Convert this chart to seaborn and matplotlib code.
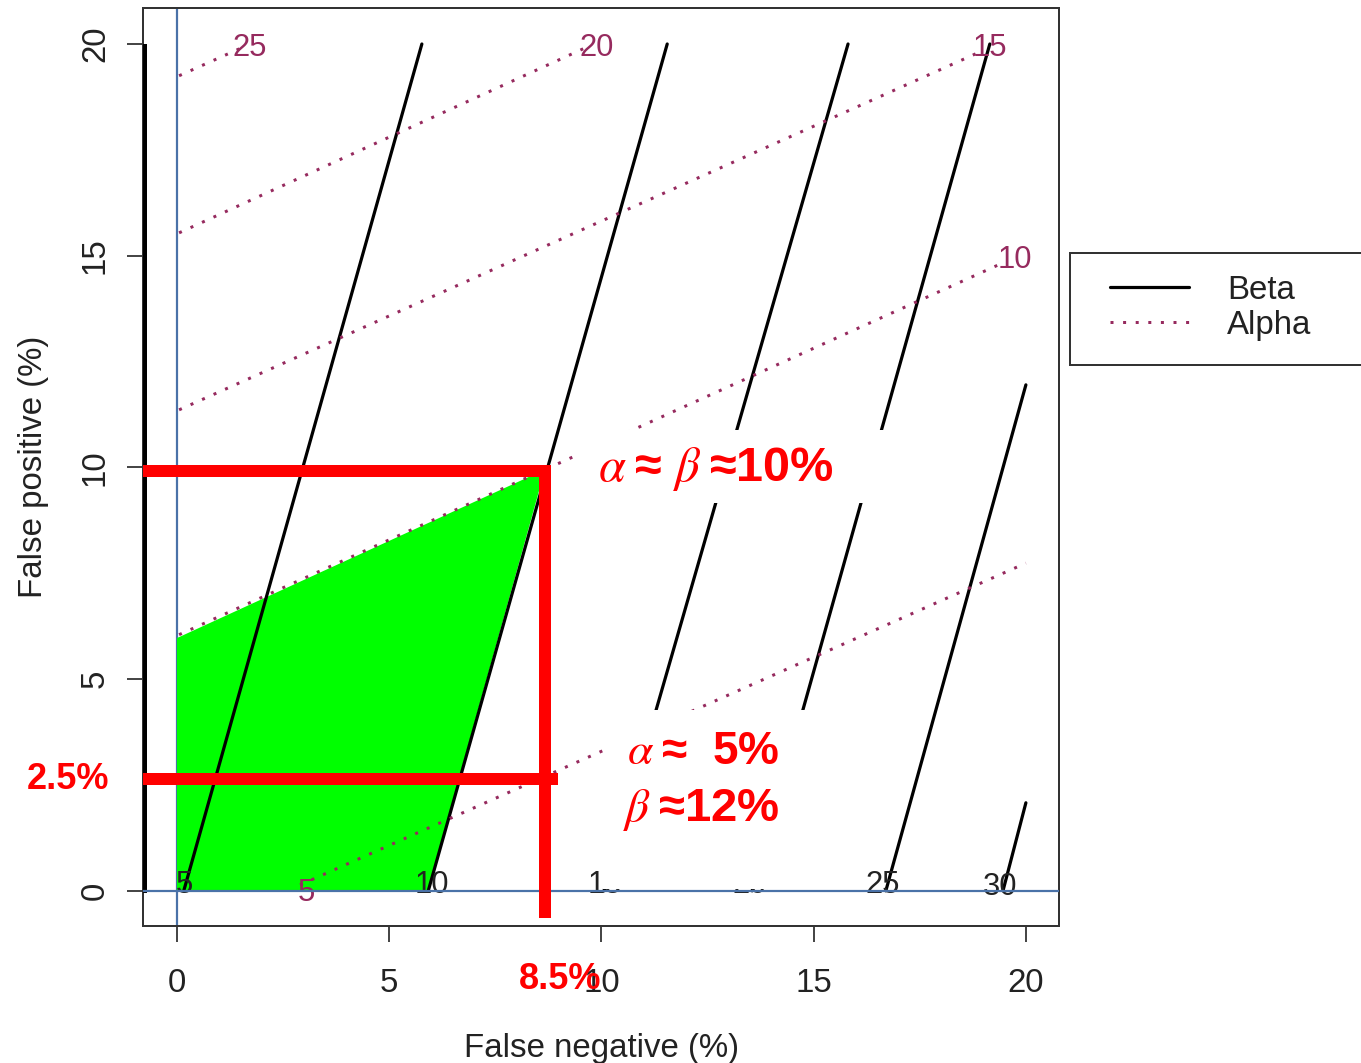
import numpy as np
import pandas as pd
import matplotlib
matplotlib.use("Agg")
import matplotlib.pyplot as plt
import seaborn as sns
from matplotlib.patches import Rectangle, Polygon
from matplotlib.lines import Line2D

# ---------------- data ----------------
# Beta contours (solid black), straight segments
beta_levels = [5, 10, 15, 20, 25, 30]
beta_x_start = [0.16, 5.92, 10.06, 13.55, 16.70, 19.46]
beta_y_start = [0.0, 0.0, 0.0, 0.0, 0.0, 0.0]
beta_x_end = [5.77, 11.55, 15.81, 19.15, 20.0, 20.0]
beta_y_end = [20.0, 20.0, 20.0, 20.0, 11.95, 2.08]
beta_label_x = [0.17, 6.0, 10.08, 13.5, 16.63, 19.39]
beta_label_y = [0.15, 0.15, 0.15, 0.15, 0.15, 0.08]

# thick contour hugging the left frame
edge_x = [-0.76, -0.76]
edge_y = [-0.05, 20.0]

# Alpha contours (dotted maroon)
alpha_levels = [25, 20, 15, 10, 5]
alpha_x_start = [0.05, 0.05, 0.05, 0.05, 2.9]
alpha_y_start = [19.25, 15.54, 11.36, 6.05, 0.14]
alpha_x_end = [1.5, 9.6, 19.0, 19.5, 20.0]
alpha_y_end = [19.9, 19.9, 19.85, 14.85, 7.74]
alpha_label_x = [1.72, 9.9, 19.15, 19.74, 3.04]
alpha_label_y = [19.9, 19.9, 19.9, 14.9, -0.05]

# feasible (green) region
region_x = [0.0, 0.0, 8.67, 5.91]
region_y = [0.0, 5.97, 9.95, 0.0]

# red guide lines: (x0, x1, y0, y1)
guide_x0 = [-0.8, 8.67, -0.8]
guide_x1 = [8.74, 8.67, 8.98]
guide_y0 = [9.92, 10.05, 2.645]
guide_y1 = [9.92, -0.64, 2.645]

# white text-box backgrounds (x0, x1, y0, y1)
box_x0 = [9.38, 10.04]
box_x1 = [16.8, 14.79]
box_y0 = [9.16, 0.05]
box_y1 = [10.88, 4.27]

x_ticks = [0, 5, 10, 15, 20]
y_ticks = [0, 5, 10, 15, 20]

# ---------------- style ----------------
sns.set_theme(style="white")
plt.rcParams["font.family"] = ["Liberation Sans", "DejaVu Sans"]
plt.rcParams["mathtext.fontset"] = "stix"

MAROON = "#962a5e"
BLUE = "#4a72a8"
RED = "#ff0000"
GREEN = "#00ff00"
TXT = "#222222"
DOTS = (0, (1, 3.2))

W, H = 1361, 1063
fig = plt.figure(figsize=(W / 100, H / 100), dpi=100)
ax = fig.add_axes([143 / W, 1 - 926 / H, (1059 - 143) / W, (926 - 8) / H])

def px(v):  # pixel size -> points
    return v * 72 / 100

# contours via seaborn
beta_rows = []
for lv, x0, y0, x1, y1 in zip(beta_levels, beta_x_start, beta_y_start, beta_x_end, beta_y_end):
    beta_rows.append(dict(level=lv, x=x0, y=y0))
    beta_rows.append(dict(level=lv, x=x1, y=y1))
beta_df = pd.DataFrame(beta_rows)
alpha_rows = []
for lv, x0, y0, x1, y1 in zip(alpha_levels, alpha_x_start, alpha_y_start, alpha_x_end, alpha_y_end):
    alpha_rows.append(dict(level=lv, x=x0, y=y0))
    alpha_rows.append(dict(level=lv, x=x1, y=y1))
alpha_df = pd.DataFrame(alpha_rows)

# blue reference line (vertical, below the green area)
ax.axvline(0, color=BLUE, lw=px(2.2), zorder=1)

ax.add_patch(Polygon(list(zip(region_x, region_y)), closed=True,
                     facecolor=GREEN, edgecolor="none", zorder=2))

sns.lineplot(data=beta_df, x="x", y="y", units="level", estimator=None, sort=False,
             color="black", lw=px(3.2), ax=ax, zorder=3, legend=False)
sns.lineplot(data=alpha_df, x="x", y="y", units="level", estimator=None, sort=False,
             color=MAROON, lw=px(3.0), ax=ax, zorder=3, legend=False,
             linestyle=DOTS)
ax.plot(edge_x, edge_y, color="black", lw=px(4), zorder=3, solid_capstyle="butt")

for lv, lx, ly in zip(beta_levels, beta_label_x, beta_label_y):
    ax.text(lx, ly, str(lv), ha="center", va="center", fontsize=px(31), color=TXT, zorder=3)
for lv, lx, ly in zip(alpha_levels, alpha_label_x, alpha_label_y):
    ax.text(lx, ly, str(lv), ha="center", va="center", fontsize=px(31), color=MAROON, zorder=3)

# white text-box backgrounds
for bx0, bx1, by0, by1 in zip(box_x0, box_x1, box_y0, box_y1):
    ax.add_patch(Rectangle((bx0, by0), bx1 - bx0, by1 - by0, facecolor="white",
                           edgecolor="none", zorder=4))

ax.axhline(0, color=BLUE, lw=px(2.2), zorder=5)

for gx0, gx1, gy0, gy1 in zip(guide_x0, guide_x1, guide_y0, guide_y1):
    ax.plot([gx0, gx1], [gy0, gy1], color=RED, lw=px(12), solid_capstyle="butt",
            zorder=6, clip_on=False)

# annotations
ann_kw = dict(color=RED, fontweight="bold", zorder=7, clip_on=False)
ax.text(9.92, 9.97, r"$\alpha\;$≈ $\beta\;$≈10%", ha="left", va="center", fontsize=35, **ann_kw)
ax.text(10.6, 3.28, r"$\alpha\;$≈  5%", ha="left", va="center", fontsize=33, **ann_kw)
ax.text(10.5, 1.91, r"$\beta\;$≈12%", ha="left", va="center", fontsize=34, **ann_kw)
ax.text(-2.57, 2.62, "2.5%", ha="center", va="center", fontsize=26, **ann_kw)
ax.text(9.02, -2.1, "8.5%", ha="center", va="center", fontsize=26, **ann_kw)

# axes
ax.set_xlim(-0.8, 20.78)
ax.set_ylim(-0.83, 20.85)
ax.set_xticks(x_ticks)
ax.set_yticks(y_ticks)
ax.set_xticklabels([str(t) for t in x_ticks], fontsize=px(33), color=TXT)
ax.set_yticklabels([str(t) for t in y_ticks], fontsize=px(33), color=TXT,
                   rotation=90, va="center")
ax.tick_params(axis="x", which="major", length=px(16), width=px(1.8),
               color="#333333", direction="out", bottom=True, pad=px(26))
ax.tick_params(axis="y", which="major", length=px(16), width=px(1.8),
               color="#333333", direction="out", left=True, pad=px(16))
ax.set_xlabel("False negative (%)", fontsize=px(33), color=TXT, labelpad=px(34))
ax.set_ylabel("False positive (%)", fontsize=px(33), color=TXT, labelpad=px(31))
for sp in ax.spines.values():
    sp.set_color("#333333")
    sp.set_linewidth(px(2))
ax.grid(False)

# legend
fig.add_artist(Rectangle((1070 / W, 1 - 365 / H), 0.3, 112 / H, transform=fig.transFigure,
                         facecolor="white", edgecolor="#333333", lw=px(2), clip_on=False,
                         zorder=1))
handles = [Line2D([], [], color="black", lw=px(3.2)),
           Line2D([], [], color=MAROON, lw=px(3.0), linestyle=DOTS)]
leg = fig.legend(handles, ["Beta", "Alpha"], loc="upper left",
                 bbox_to_anchor=(1110 / W, 1 - 275 / H), bbox_transform=fig.transFigure,
                 frameon=False, fontsize=px(33), handlelength=2.4, handletextpad=1.15,
                 labelspacing=0.12, borderpad=0, borderaxespad=0)
leg.set_zorder(5)
for t in leg.get_texts():
    t.set_color(TXT)

fig.savefig("out.png", dpi=100)
